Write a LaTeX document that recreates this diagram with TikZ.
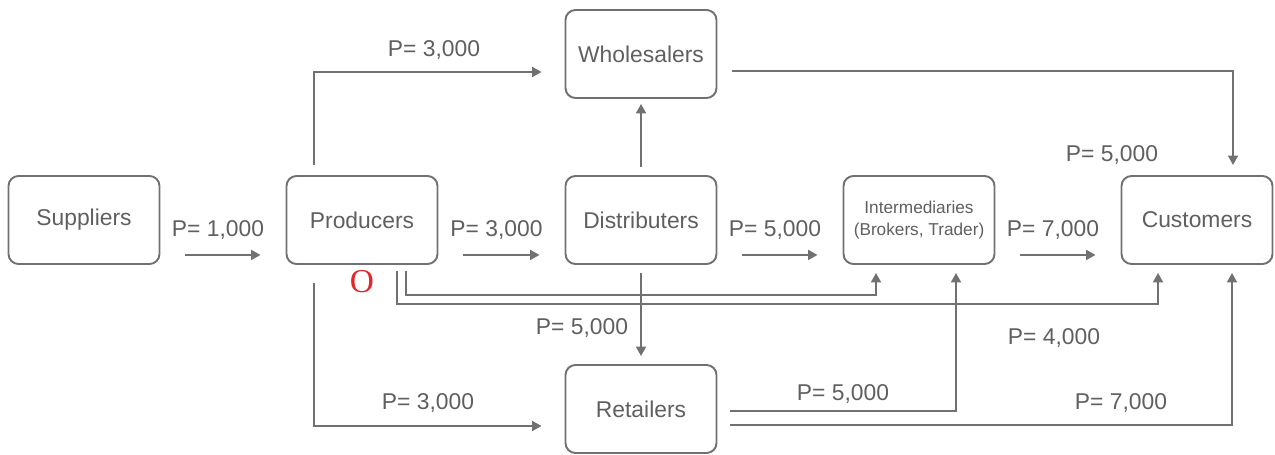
\documentclass[tikz,border=0pt]{standalone}
\usepackage{fontspec}
\setmainfont{Liberation Sans}
\newfontfamily\serifO{Liberation Serif}
\usetikzlibrary{arrows.meta}
\definecolor{linegray}{HTML}{717171}
\definecolor{textgray}{HTML}{5F5F5F}
\definecolor{markred}{HTML}{E4262B}

\begin{document}
\begin{tikzpicture}[
  box/.style={draw=linegray, line width=1.1pt, rounded corners=2mm,
    minimum width=3.02cm, minimum height=1.76cm, text=textgray,
    font=\fontsize{13}{15}\selectfont},
  arr/.style={draw=linegray, line width=1.1pt,
    -{Triangle[length=1.9mm,width=2mm]}},
  lbl/.style={text=textgray, font=\fontsize{13}{15}\selectfont}
]
\useasboundingbox (0,0) rectangle (25.5,9.1);

% boxes
\node[box] (sup) at (1.68,4.70) {Suppliers};
\node[box] (prod) at (7.24,4.70) {Producers};
\node[box] (dist) at (12.82,4.70) {Distributers};
\node[box, align=center, font=\fontsize{9.8}{12.5}\selectfont] (inter) at (18.38,4.70) {Intermediaries\\(Brokers, Trader)};
\node[box] (cust) at (23.94,4.70) {Customers};
\node[box] (whole) at (12.82,8.02) {Wholesalers};
\node[box] (ret) at (12.82,0.92) {Retailers};

% main chain
\draw[arr, shorten <=5mm, shorten >=5mm] ([yshift=2mm]sup.south east) -- ([yshift=2mm]prod.south west)
  node[lbl, midway, xshift=-1mm, yshift=5mm] {P= 1,000};
\draw[arr, shorten <=5mm, shorten >=5mm] ([yshift=2mm]prod.south east) -- ([yshift=2mm]dist.south west)
  node[lbl, midway, xshift=-1mm, yshift=5mm] {P= 3,000};
\draw[arr, shorten <=5mm, shorten >=5mm] ([yshift=2mm]dist.south east) -- ([yshift=2mm]inter.south west)
  node[lbl, midway, xshift=-1mm, yshift=5mm] {P= 5,000};
\draw[arr, shorten <=5mm, shorten >=5mm] ([yshift=2mm]inter.south east) -- ([yshift=2mm]cust.south west)
  node[lbl, midway, xshift=-1mm, yshift=5mm] {P= 7,000};

% upper routes
\draw[arr] ([xshift=5.6mm, yshift=2mm]prod.north west) |- ([xshift=-4.6mm, yshift=-3.6mm]whole.west);
\node[lbl] (lprodwhole) at (8.68,8.10) {P= 3,000};
\draw[arr] ([xshift=3mm, yshift=-3.4mm]whole.east) -| ([xshift=7.2mm, yshift=2mm]cust.north);
\node[lbl] (lwholecust) at (22.24,6.00) {P= 5,000};
\draw[arr] ([yshift=1.6mm]dist.north) -- ([yshift=-1mm]whole.south);

% lower routes
\draw[arr] ([yshift=-1.6mm]dist.south) -- ([yshift=1.6mm]ret.north);
\node[lbl] (ldistret) at (11.64,2.54) {P= 5,000};
\draw[arr] ([xshift=5.6mm, yshift=-3.6mm]prod.south west) |- ([xshift=-4.6mm, yshift=-3.4mm]ret.west);
\node[lbl] (lprodret) at (8.56,1.04) {P= 3,000};
\draw[arr] ([xshift=8.8mm, yshift=-1.2mm]prod.south) -- ++(0,-0.48) -| ([xshift=-8.6mm, yshift=-1.6mm]inter.south);
\draw[arr] ([xshift=7.0mm, yshift=-1.2mm]prod.south) -- ++(0,-0.66) -| ([xshift=-7.8mm, yshift=-1.6mm]cust.south);
\node[lbl] (lprodcust) at (21.08,2.34) {P= 4,000};
\draw[arr] ([xshift=2.5mm, yshift=-0.4mm]ret.east) -| ([xshift=7.4mm, yshift=-1.6mm]inter.south);
\node[lbl] (lretinter) at (16.86,1.22) {P= 5,000};
\draw[arr] ([xshift=2.5mm, yshift=-3.2mm]ret.east) -| ([xshift=7.0mm, yshift=-1.6mm]cust.south);
\node[lbl] (lretcust) at (22.42,1.04) {P= 7,000};

% mark
\node[text=markred, font=\serifO\fontsize{19}{22}\selectfont] (mark) at (7.24,3.46) {O};
\end{tikzpicture}
\end{document}
